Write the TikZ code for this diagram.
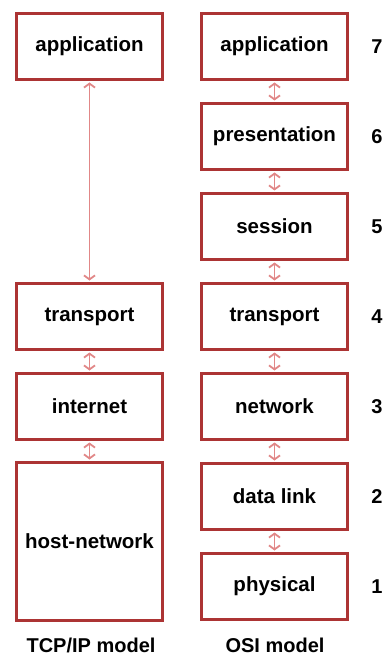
\documentclass[tikz,border=0pt]{standalone}
\usepackage{fontspec}
\setmainfont{Liberation Sans}
\usetikzlibrary{arrows.meta}
\definecolor{boxred}{RGB}{172,52,52}
\definecolor{arrred}{RGB}{225,135,135}
\tikzset{
  layer/.style={draw=boxred, line width=3pt, fill=white, minimum width=146pt, minimum height=66pt, inner sep=0pt, font=\fontsize{20.5}{24}\selectfont\bfseries},
  conn/.style={draw=arrred, line width=1.8pt, {Straight Barb[length=4pt,width=11pt]}-{Straight Barb[length=4pt,width=11pt]}, shorten <=1.5pt, shorten >=1.5pt},
  lbl/.style={font=\fontsize{20}{24}\selectfont\bfseries, inner sep=0pt}
}
\begin{document}
\begin{tikzpicture}[x=1pt,y=-1pt]
\useasboundingbox (0,0) rectangle (383,660);
% TCP/IP column
\node[layer] (tapp) at (89.5,46.5) {application};
\node[layer] (ttrans) at (89.5,316.5) {transport};
\node[layer] (tint) at (89.5,406.5) {internet};
\node[layer, minimum height=158pt] (thost) at (89.5,541.5) {host-network};
% OSI column
\node[layer] (oapp) at (274.5,46.5) {application};
\node[layer] (opres) at (274.5,136.5) {presentation};
\node[layer] (osess) at (274.5,226.5) {session};
\node[layer] (otrans) at (274.5,316.5) {transport};
\node[layer] (onet) at (274.5,406.5) {network};
\node[layer] (odl) at (274.5,496.5) {data link};
\node[layer] (ophys) at (274.5,586.5) {physical};
% numbers
\node[lbl] (n7) at (377,46.5) {7};
\node[lbl] (n6) at (377,136.5) {6};
\node[lbl] (n5) at (377,226.5) {5};
\node[lbl] (n4) at (377,316.5) {4};
\node[lbl] (n3) at (377,406.5) {3};
\node[lbl] (n2) at (377,496.5) {2};
\node[lbl] (n1) at (377,586.5) {1};
% captions
\node[lbl] (ctcp) at (91,645) {TCP/IP model};
\node[lbl] (cosi) at (275,645) {OSI model};
% connectors
\draw[conn] (tapp.south) -- (ttrans.north);
\draw[conn] (ttrans.south) -- (tint.north);
\draw[conn] (tint.south) -- (thost.north);
\draw[conn] (oapp.south) -- (opres.north);
\draw[conn] (opres.south) -- (osess.north);
\draw[conn] (osess.south) -- (otrans.north);
\draw[conn] (otrans.south) -- (onet.north);
\draw[conn] (onet.south) -- (odl.north);
\draw[conn] (odl.south) -- (ophys.north);
\end{tikzpicture}
\end{document}
